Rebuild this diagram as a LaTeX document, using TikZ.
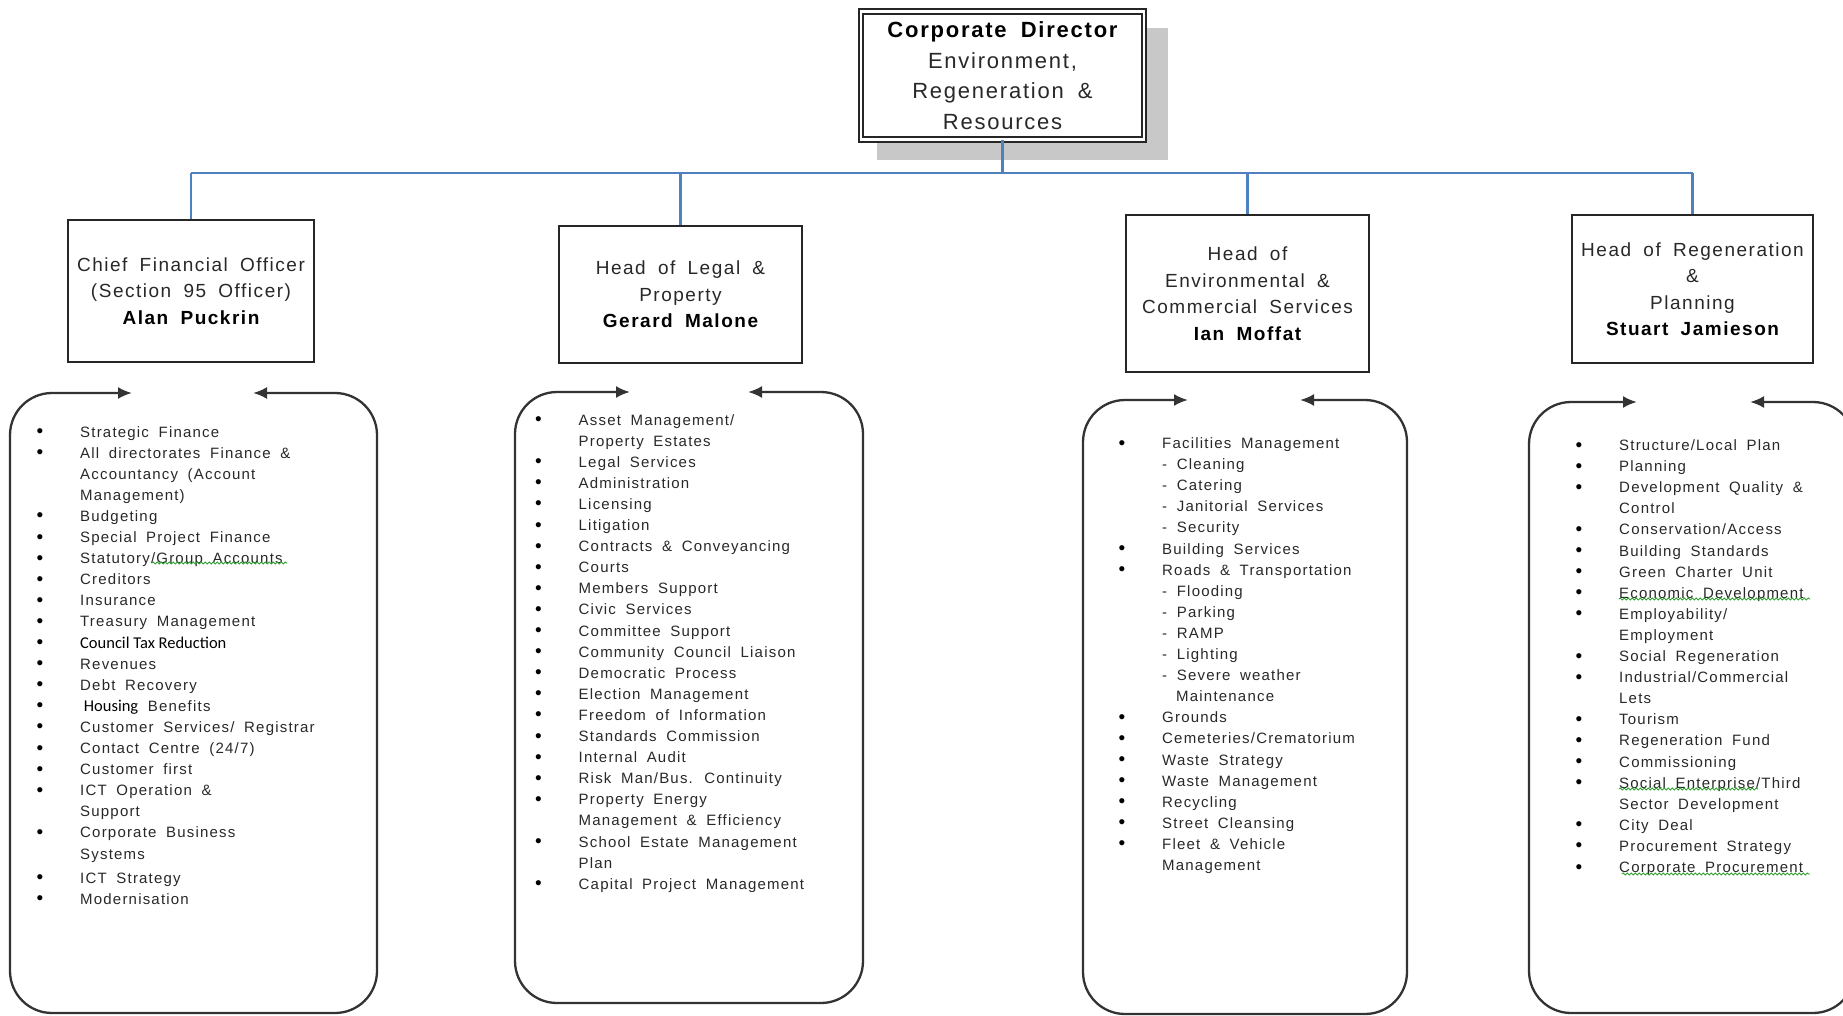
\documentclass[tikz,border=0pt]{standalone}
\usepackage{fontspec}
\setmainfont{Liberation Sans}
\newfontfamily\lsans[LetterSpace=8,WordSpace=1.8]{Liberation Sans}
\newfontfamily\calib{Carlito}
\usetikzlibrary{arrows.meta,decorations.pathmorphing}
\definecolor{connc}{RGB}{79,129,189}
\definecolor{txt}{RGB}{40,40,40}
\definecolor{shadowc}{RGB}{200,200,200}
\definecolor{spell}{RGB}{50,160,50}
\tikzset{
  hbox/.style={draw=black!85, line width=2.2pt, fill=white, align=center, inner sep=0pt,
    font=\lsans\fontsize{19}{26.5}\selectfont, text=txt},
  topbox/.style={draw=black!85, line width=1.8pt, double, double distance=2.5pt, fill=white,
    align=center, inner sep=0pt, font=\lsans\fontsize{22}{30.5}\selectfont, text=txt},
  conn/.style={draw=connc, line width=2.2pt},
  lst/.style={draw=black!80, line width=2.3pt, rounded corners=42pt,
    {Latex[length=14pt,width=12pt]}-{Latex[length=14pt,width=12pt]}},
  ltext/.style={anchor=base west, inner sep=0pt, font=\lsans\fontsize{15}{21.1}\selectfont, text=txt},
  squig/.style={draw=spell, line width=0.9pt, decorate,
    decoration={snake, segment length=4pt, amplitude=1pt}},
}
\newcommand{\nm}[1]{\textbf{\color{black}#1}}
\newcommand{\calt}[1]{{\calib\fontsize{16.5}{21.1}\selectfont\color{black}#1}}
\newcommand{\bul}{\smash{\raisebox{-0.5pt}{\fontsize{19}{21.1}\selectfont\color{black}\textbullet}}}
\begin{document}
\begin{tikzpicture}[x=1pt,y=-1pt]
\useasboundingbox (0,0) rectangle (1843,1016);
\clip (0,0) rectangle (1843,1016);

% shadow of the top box
\fill[shadowc] (877,28) rectangle (1168,160);
\node[topbox, minimum width=283, minimum height=128] (top) at (1002.5,75.5)
  {\textbf{\color{black}Corporate Director}\\Environment,\\Regeneration \&\\Resources};

% heads of service
\node[hbox, minimum width=246, minimum height=142] (cfo) at (191,291)
  {Chief Financial Officer\\(Section 95 Officer)\\\nm{Alan Puckrin}};
\node[hbox, minimum width=243, minimum height=137] (leg) at (680.5,294.5)
  {Head of Legal \&\\Property\\\nm{Gerard Malone}};
\node[hbox, minimum width=243, minimum height=157] (env) at (1247.5,293.5)
  {Head of\\Environmental \&\\Commercial Services\\\nm{Ian Moffat}};
\node[hbox, minimum width=241, minimum height=148] (reg) at (1692.5,289)
  {Head of Regeneration\\\&\\Planning\\\nm{Stuart Jamieson}};

% connectors
\coordinate (bus) at (1005,173);
\draw[conn] (top.south) -- (top.south |- bus);
\draw[conn] (cfo.north |- bus) -- (reg.north |- bus);
\draw[conn] (cfo.north |- bus) -- (cfo.north);
\draw[conn] (leg.north |- bus) -- (leg.north);
\draw[conn] (env.north |- bus) -- (env.north);
\draw[conn] (reg.north |- bus) -- (reg.north);

% list frames
\draw[lst] (132,393) -- (10,393) -- (10,1013) -- (377,1013) -- (377,393) -- (253,393);
\draw[lst] (630,392) -- (515,392) -- (515,1003) -- (863,1003) -- (863,392) -- (748,392);
\draw[lst] (1188,400) -- (1083,400) -- (1083,1014) -- (1407,1014) -- (1407,400) -- (1300,400);
\draw[lst] (1637,402) -- (1529,402) -- (1529,1013) -- (1855,1013) -- (1855,402) -- (1750,402);

% list contents
\node[ltext] (l1) at (36.5,437) {\begin{tabular}[t]{@{}p{43.5pt}@{}l@{}}
\bul & Strategic Finance\\
\bul & All directorates Finance \&\\
 & Accountancy (Account\\
 & Management)\\
\bul & Budgeting\\
\bul & Special Project Finance\\
\bul & Statutory/Group Accounts\\
\bul & Creditors\\
\bul & Insurance\\
\bul & Treasury Management\\
\bul & \calt{Council Tax Reduction}\\
\bul & Revenues\\
\bul & Debt Recovery\\
\bul & \calt{\ Housing} Benefits\\
\bul & Customer Services/ Registrar\\
\bul & Contact Centre (24/7)\\
\bul & Customer first\\
\bul & ICT Operation \&\\
 & Support\\
\bul & Corporate Business\\
 & Systems\\[3pt]
\bul & ICT Strategy\\
\bul & Modernisation
\end{tabular}};

\node[ltext] (l2) at (535,425) {\begin{tabular}[t]{@{}p{43.5pt}@{}l@{}}
\bul & Asset Management/\\
 & Property Estates\\
\bul & Legal Services\\
\bul & Administration\\
\bul & Licensing\\
\bul & Litigation\\
\bul & Contracts \& Conveyancing\\
\bul & Courts\\
\bul & Members Support\\
\bul & Civic Services\\
\bul & Committee Support\\
\bul & Community Council Liaison\\
\bul & Democratic Process\\
\bul & Election Management\\
\bul & Freedom of Information\\
\bul & Standards Commission\\
\bul & Internal Audit\\
\bul & Risk Man/Bus. Continuity\\
\bul & Property Energy\\
 & Management \& Efficiency\\
\bul & School Estate Management\\
 & Plan\\
\bul & Capital Project Management
\end{tabular}};

\node[ltext] (l3) at (1118.5,448.5) {\begin{tabular}[t]{@{}p{43.5pt}@{}l@{}}
\bul & Facilities Management\\
 & - Cleaning\\
 & - Catering\\
 & - Janitorial Services\\
 & - Security\\
\bul & Building Services\\
\bul & Roads \& Transportation\\
 & - Flooding\\
 & - Parking\\
 & - RAMP\\
 & - Lighting\\
 & - Severe weather\\
 & \hspace{14pt}Maintenance\\
\bul & Grounds\\
\bul & Cemeteries/Crematorium\\
\bul & Waste Strategy\\
\bul & Waste Management\\
\bul & Recycling\\
\bul & Street Cleansing\\
\bul & Fleet \& Vehicle\\
 & Management
\end{tabular}};

\node[ltext] (l4) at (1575.5,450.5) {\begin{tabular}[t]{@{}p{43.5pt}@{}l@{}}
\bul & Structure/Local Plan\\
\bul & Planning\\
\bul & Development Quality \&\\
 & Control\\
\bul & Conservation/Access\\
\bul & Building Standards\\
\bul & Green Charter Unit\\
\bul & Economic Development\\
\bul & Employability/\\
 & Employment\\
\bul & Social Regeneration\\
\bul & Industrial/Commercial\\
 & Lets\\
\bul & Tourism\\
\bul & Regeneration Fund\\
\bul & Commissioning\\
\bul & Social Enterprise/Third\\
 & Sector Development\\
\bul & City Deal\\
\bul & Procurement Strategy\\
\bul & Corporate Procurement
\end{tabular}};

% spell-check underlines
\draw[squig] (152,563) -- (287,563);
\draw[squig] (1619,599) -- (1810,599);
\draw[squig] (1619,789) -- (1758,789);
\draw[squig] (1622,874) -- (1810,874);
\end{tikzpicture}
\end{document}
